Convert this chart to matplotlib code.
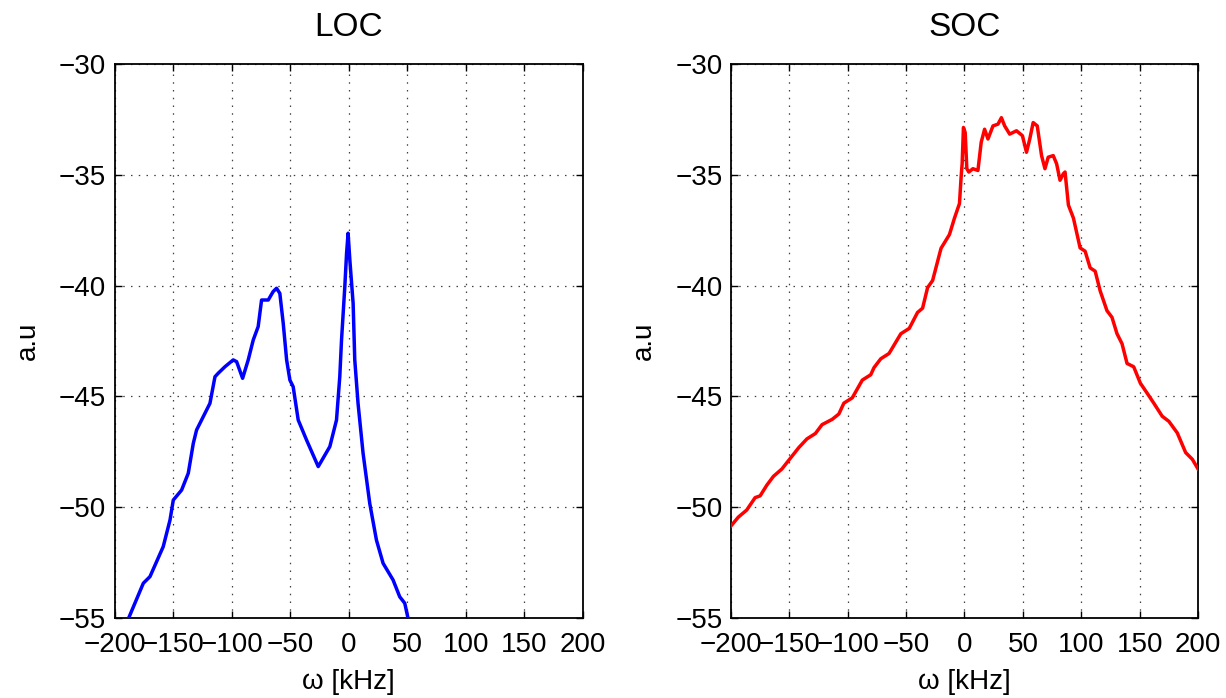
import matplotlib
matplotlib.use("Agg")
import matplotlib.pyplot as plt

plt.rcParams['font.family'] = ['Liberation Sans', 'DejaVu Sans']

# LOC spectrum (blue)
loc_freq = [-188, -175.4, -169.7, -158.4, -152.6, -149.8, -142.7, -137, -132.7, -129.9,
            -118.5, -114.2, -111.4, -105.7, -98.6, -95.7, -90.6, -85.8, -81.5, -77.3,
            -74.4, -68.7, -64.5, -61.6, -58.8, -55.9, -53, -50.2, -47.4, -43.1,
            -36, -26, -16.1, -10.4, -7.6, -6.1, -3.3, -1.8, -0.5, 1.0,
            3.8, 5.2, 8, 12.3, 18, 23.7, 29.4, 37.9, 43.6, 47.9, 50.7]
loc_val = [-55, -53.42, -53.12, -51.77, -50.57, -49.67, -49.22, -48.46, -47.11, -46.51,
           -45.31, -44.11, -43.95, -43.66, -43.35, -43.43, -44.18, -43.35, -42.45, -41.85,
           -40.65, -40.65, -40.27, -40.12, -40.35, -41.70, -43.35, -44.26, -44.56, -46.06,
           -46.96, -48.16, -47.26, -46.06, -44.11, -42.45, -40.05, -38.54, -37.64, -38.85,
           -40.80, -43.35, -45.31, -47.56, -49.82, -51.47, -52.52, -53.27, -54.03, -54.32, -55]

# SOC spectrum (red)
soc_freq = [-200, -193.7, -186.5, -179.3, -175, -169.3, -163.6, -156.4, -149.2, -142,
            -134.9, -127.7, -122, -113.3, -107.6, -103.3, -96.1, -87.5, -80.3, -77.5,
            -71.7, -64.6, -54.5, -47.3, -40.2, -35.9, -31.6, -27.3, -20.1, -12.9,
            -8.6, -4.3, -2.9, -2.0, -0.9, 0.6, 2.0, 3.7, 7.2, 11.5,
            14.3, 17.2, 20.1, 24.4, 28.7, 31.6, 34.4, 38.7, 44.5, 49.6,
            53.1, 55.9, 58.8, 62.3, 66.0, 68.9, 71.7, 76.0, 78.9, 81.8,
            84.6, 86.1, 89.0, 93.3, 99.0, 103.3, 107.6, 111.9, 116.2, 122.0,
            126.3, 130.6, 134.9, 139.2, 144.9, 150.6, 156.4, 162.1, 169.3, 175.0,
            182.2, 189.4, 195.1, 200]
soc_val = [-50.84, -50.44, -50.12, -49.56, -49.48, -49.0, -48.6, -48.27, -47.79, -47.31,
           -46.91, -46.67, -46.27, -46.03, -45.79, -45.30, -45.06, -44.26, -44.02, -43.70,
           -43.30, -43.06, -42.17, -41.93, -41.21, -41.02, -40.09, -39.77, -38.32, -37.70,
           -36.96, -36.30, -35.11, -34.5, -32.87, -33.1, -34.73, -34.88, -34.73, -34.81,
           -33.54, -32.95, -33.39, -32.80, -32.72, -32.43, -32.80, -33.17, -33.02, -33.24,
           -33.99, -33.39, -32.65, -32.80, -34.14, -34.73, -34.21, -34.14, -34.51, -35.25,
           -34.96, -34.88, -36.37, -36.96, -38.30, -38.45, -39.20, -39.35, -40.24, -41.13,
           -41.43, -42.17, -42.62, -43.51, -43.66, -44.40, -44.85, -45.30, -45.89, -46.12,
           -46.64, -47.53, -47.83, -48.27]

x_ticks = [-200, -150, -100, -50, 0, 50, 100, 150, 200]
y_ticks = [-55, -50, -45, -40, -35, -30]
x_tick_labels = ['\u2212200', '\u2212150', '\u2212100', '\u221250', '0', '50', '100', '150', '200']
y_tick_labels = ['\u221255', '\u221250', '\u221245', '\u221240', '\u221235', '\u221230']

fig = plt.figure(figsize=(12.26, 6.98), dpi=100)
ax1 = fig.add_axes([0.0934, 0.1142, 0.382, 0.7944])
ax2 = fig.add_axes([0.5962, 0.1142, 0.381, 0.7944])

for ax, f, v, c, title in [(ax1, loc_freq, loc_val, 'blue', 'LOC'),
                           (ax2, soc_freq, soc_val, 'red', 'SOC')]:
    ax.plot(f, v, color=c, linewidth=2.5, clip_on=True, zorder=3)
    ax.set_xlim(-200, 200)
    ax.set_ylim(-55, -30)
    ax.set_xticks(x_ticks)
    ax.set_xticklabels(x_tick_labels)
    ax.set_yticks(y_ticks)
    ax.set_yticklabels(y_tick_labels)
    ax.grid(True, linestyle=(0, (1.2, 5)), color='0.25', linewidth=0.9)
    ax.tick_params(direction='in', top=True, right=True, labelsize=20, length=5, width=1)
    ax.tick_params(axis='x', pad=10)
    ax.tick_params(axis='y', pad=6)
    for s in ax.spines.values():
        s.set_linewidth(1.3)
    ax.set_title(title, fontsize=24, pad=20)
    ax.set_xlabel('\u03c9 [kHz]', fontsize=20, labelpad=8)
    ax.set_ylabel('a.u', fontsize=20, labelpad=13)

fig.savefig('out.png', dpi=100)
